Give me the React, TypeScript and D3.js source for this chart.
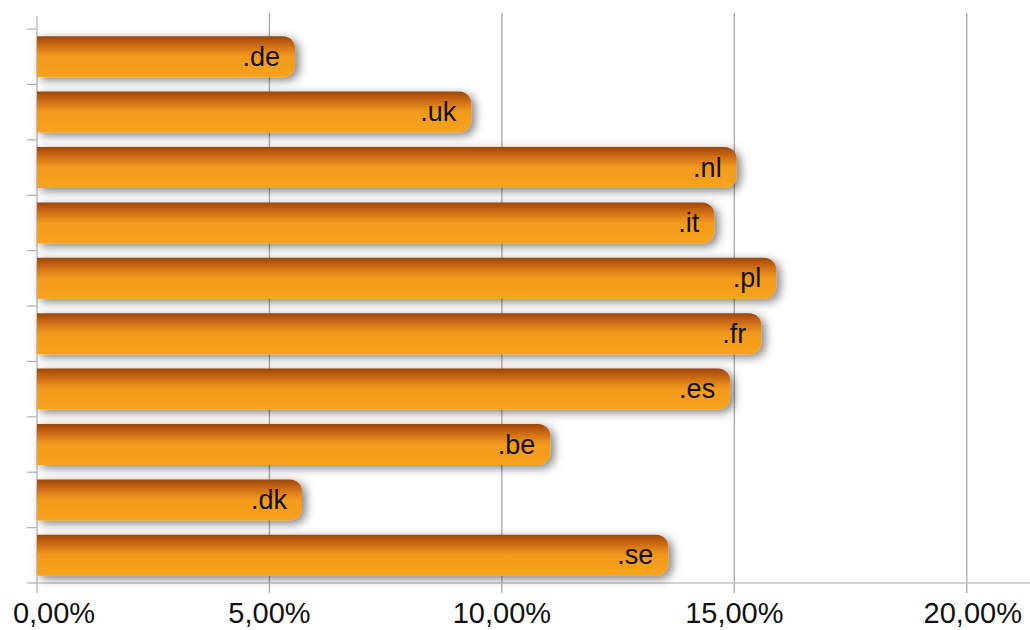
import { useEffect, useRef } from 'react';
import * as d3 from 'd3';

// Share per domain (fraction)
const domains = ['.de', '.uk', '.nl', '.it', '.pl', '.fr', '.es', '.be', '.dk', '.se'];
const shares = [0.0555, 0.0934, 0.1505, 0.1457, 0.159, 0.1558, 0.1491, 0.1104, 0.057, 0.1358];
const xTicks = [0, 0.05, 0.1, 0.15, 0.2];

const App: React.FC = () => {
    const svgRef = useRef<SVGSVGElement>(null);

    useEffect(() => {
        if (!svgRef.current) return;
        const svg = d3.select(svgRef.current);
        svg.selectAll('*').remove();

        const W = 1030, H = 630;
        const left = 37, right = 1030, top = 29, bottom = 583;

        const x = d3.scaleLinear().domain([0, 0.2136]).range([left, right]);
        const y = d3.scaleBand<string>().domain(domains).range([top, bottom]).paddingInner(0.26).paddingOuter(0.13);

        const locale = d3.formatLocale({ decimal: ',', thousands: '.', grouping: [3], currency: ['', '€'] });
        const fmt = locale.format('.2%');

        svg.attr('width', W).attr('height', H);

        const defs = svg.append('defs');
        const grad = defs.append('linearGradient')
            .attr('id', 'barGrad').attr('x1', 0).attr('y1', 0).attr('x2', 0).attr('y2', 1);
        grad.append('stop').attr('offset', '0%').attr('stop-color', '#9a4709');
        grad.append('stop').attr('offset', '12%').attr('stop-color', '#b9590f');
        grad.append('stop').attr('offset', '30%').attr('stop-color', '#d87818');
        grad.append('stop').attr('offset', '50%').attr('stop-color', '#f39a1e');
        grad.append('stop').attr('offset', '100%').attr('stop-color', '#f9a31f');

        const filt = defs.append('filter').attr('id', 'barShadow')
            .attr('x', '-10%').attr('y', '-50%').attr('width', '130%').attr('height', '200%');
        filt.append('feDropShadow')
            .attr('dx', 4).attr('dy', 3).attr('stdDeviation', 5)
            .attr('flood-color', '#000').attr('flood-opacity', 0.5);

        // vertical grid lines
        svg.append('g')
            .selectAll('line')
            .data(xTicks.slice(1))
            .join('line')
            .attr('x1', d => x(d)).attr('x2', d => x(d))
            .attr('y1', 13).attr('y2', bottom + 10)
            .attr('stroke', '#a7a7ab').attr('stroke-width', 1.3);

        // y axis
        svg.append('line')
            .attr('x1', left).attr('x2', left).attr('y1', 16).attr('y2', bottom + 10)
            .attr('stroke', '#b5b5b9').attr('stroke-width', 1.3);

        const bounds = d3.range(domains.length + 1).map(i => top + i * y.step());
        svg.append('g')
            .selectAll('line')
            .data(bounds)
            .join('line')
            .attr('x1', left - 10).attr('x2', left)
            .attr('y1', d => d).attr('y2', d => d)
            .attr('stroke', '#b5b5b9').attr('stroke-width', 1.3);

        // bottom axis line
        svg.append('line')
            .attr('x1', left).attr('x2', right).attr('y1', bottom).attr('y2', bottom)
            .attr('stroke', '#c4c4c8').attr('stroke-width', 1.3);

        // bars
        const r = 12;
        const barPath = (d: number, name: string) => {
            const x0 = x(0), x1 = x(d);
            const y0 = y(name)!, h = y.bandwidth();
            return `M${x0},${y0} H${x1 - r} A${r},${r} 0 0 1 ${x1},${y0 + r} V${y0 + h - r} A${r},${r} 0 0 1 ${x1 - r},${y0 + h} H${x0} Z`;
        };

        const bars = svg.append('g');
        bars.selectAll('path')
            .data(domains)
            .join('path')
            .attr('d', (dName, i) => barPath(shares[i], dName))
            .attr('fill', 'url(#barGrad)')
            .attr('filter', 'url(#barShadow)');

        bars.selectAll('text')
            .data(domains)
            .join('text')
            .attr('x', (_, i) => x(shares[i]) - 15)
            .attr('y', d => y(d)! + y.bandwidth() / 2 + 9)
            .attr('text-anchor', 'end')
            .style('font-family', '"Liberation Sans", Arial, sans-serif')
            .style('font-size', '27px')
            .style('fill', '#111')
            .text(d => d);

        // x tick labels
        svg.append('g')
            .selectAll('text')
            .data(xTicks)
            .join('text')
            .attr('x', d => x(d) + (d === 0 ? 17 : d === 0.2 ? 6 : 0))
            .attr('y', 623)
            .attr('text-anchor', 'middle')
            .style('font-family', '"Liberation Sans", Arial, sans-serif')
            .style('font-size', '29px')
            .style('fill', '#111')
            .text(d => fmt(d));
    }, []);

    return <svg ref={svgRef} style={{ position: 'absolute', left: 0, top: 0, background: '#fff' }} />;
};

export default App;
